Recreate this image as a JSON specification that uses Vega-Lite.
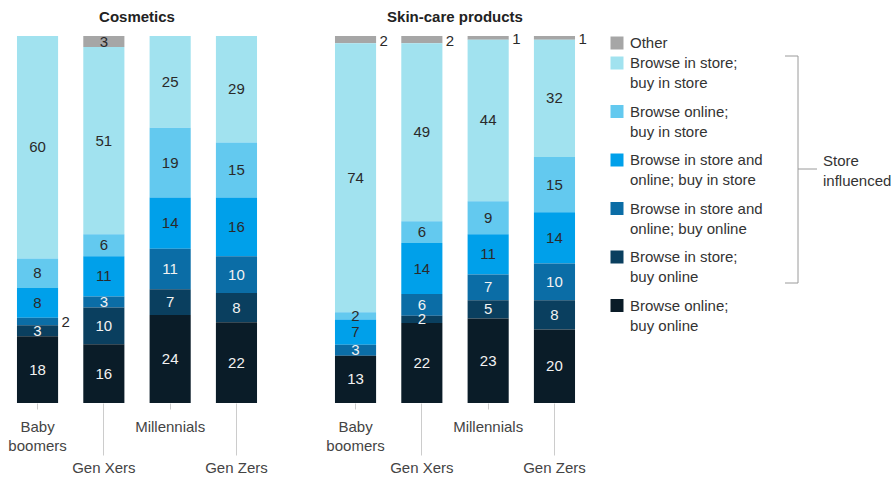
{
  "$schema": "https://vega.github.io/schema/vega-lite/v6.json",
  "padding": {"left": 0, "top": 10, "right": 0, "bottom": 0},
  "background": "white",
  "config": {"view": {"stroke": null}, "font": "Liberation Sans", "concat": {"spacing": 8}},
  "datasets": {
    "bars": [
      {"product": "Cosmetics", "gen": "Baby boomers", "segment": "Browse in store; buy in store", "value": 60},
      {"product": "Cosmetics", "gen": "Baby boomers", "segment": "Browse online; buy in store", "value": 8},
      {"product": "Cosmetics", "gen": "Baby boomers", "segment": "Browse in store and online; buy in store", "value": 8},
      {"product": "Cosmetics", "gen": "Baby boomers", "segment": "Browse in store and online; buy online", "value": 2},
      {"product": "Cosmetics", "gen": "Baby boomers", "segment": "Browse in store; buy online", "value": 3},
      {"product": "Cosmetics", "gen": "Baby boomers", "segment": "Browse online; buy online", "value": 18},
      {"product": "Cosmetics", "gen": "Gen Xers", "segment": "Other", "value": 3},
      {"product": "Cosmetics", "gen": "Gen Xers", "segment": "Browse in store; buy in store", "value": 51},
      {"product": "Cosmetics", "gen": "Gen Xers", "segment": "Browse online; buy in store", "value": 6},
      {"product": "Cosmetics", "gen": "Gen Xers", "segment": "Browse in store and online; buy in store", "value": 11},
      {"product": "Cosmetics", "gen": "Gen Xers", "segment": "Browse in store and online; buy online", "value": 3},
      {"product": "Cosmetics", "gen": "Gen Xers", "segment": "Browse in store; buy online", "value": 10},
      {"product": "Cosmetics", "gen": "Gen Xers", "segment": "Browse online; buy online", "value": 16},
      {"product": "Cosmetics", "gen": "Millennials", "segment": "Browse in store; buy in store", "value": 25},
      {"product": "Cosmetics", "gen": "Millennials", "segment": "Browse online; buy in store", "value": 19},
      {"product": "Cosmetics", "gen": "Millennials", "segment": "Browse in store and online; buy in store", "value": 14},
      {"product": "Cosmetics", "gen": "Millennials", "segment": "Browse in store and online; buy online", "value": 11},
      {"product": "Cosmetics", "gen": "Millennials", "segment": "Browse in store; buy online", "value": 7},
      {"product": "Cosmetics", "gen": "Millennials", "segment": "Browse online; buy online", "value": 24},
      {"product": "Cosmetics", "gen": "Gen Zers", "segment": "Browse in store; buy in store", "value": 29},
      {"product": "Cosmetics", "gen": "Gen Zers", "segment": "Browse online; buy in store", "value": 15},
      {"product": "Cosmetics", "gen": "Gen Zers", "segment": "Browse in store and online; buy in store", "value": 16},
      {"product": "Cosmetics", "gen": "Gen Zers", "segment": "Browse in store and online; buy online", "value": 10},
      {"product": "Cosmetics", "gen": "Gen Zers", "segment": "Browse in store; buy online", "value": 8},
      {"product": "Cosmetics", "gen": "Gen Zers", "segment": "Browse online; buy online", "value": 22},
      {"product": "Skin-care products", "gen": "Baby boomers", "segment": "Other", "value": 2},
      {"product": "Skin-care products", "gen": "Baby boomers", "segment": "Browse in store; buy in store", "value": 74},
      {"product": "Skin-care products", "gen": "Baby boomers", "segment": "Browse online; buy in store", "value": 2},
      {"product": "Skin-care products", "gen": "Baby boomers", "segment": "Browse in store and online; buy in store", "value": 7},
      {"product": "Skin-care products", "gen": "Baby boomers", "segment": "Browse in store and online; buy online", "value": 3},
      {"product": "Skin-care products", "gen": "Baby boomers", "segment": "Browse online; buy online", "value": 13},
      {"product": "Skin-care products", "gen": "Gen Xers", "segment": "Other", "value": 2},
      {"product": "Skin-care products", "gen": "Gen Xers", "segment": "Browse in store; buy in store", "value": 49},
      {"product": "Skin-care products", "gen": "Gen Xers", "segment": "Browse online; buy in store", "value": 6},
      {"product": "Skin-care products", "gen": "Gen Xers", "segment": "Browse in store and online; buy in store", "value": 14},
      {"product": "Skin-care products", "gen": "Gen Xers", "segment": "Browse in store and online; buy online", "value": 6},
      {"product": "Skin-care products", "gen": "Gen Xers", "segment": "Browse in store; buy online", "value": 2},
      {"product": "Skin-care products", "gen": "Gen Xers", "segment": "Browse online; buy online", "value": 22},
      {"product": "Skin-care products", "gen": "Millennials", "segment": "Other", "value": 1},
      {"product": "Skin-care products", "gen": "Millennials", "segment": "Browse in store; buy in store", "value": 44},
      {"product": "Skin-care products", "gen": "Millennials", "segment": "Browse online; buy in store", "value": 9},
      {"product": "Skin-care products", "gen": "Millennials", "segment": "Browse in store and online; buy in store", "value": 11},
      {"product": "Skin-care products", "gen": "Millennials", "segment": "Browse in store and online; buy online", "value": 7},
      {"product": "Skin-care products", "gen": "Millennials", "segment": "Browse in store; buy online", "value": 5},
      {"product": "Skin-care products", "gen": "Millennials", "segment": "Browse online; buy online", "value": 23},
      {"product": "Skin-care products", "gen": "Gen Zers", "segment": "Other", "value": 1},
      {"product": "Skin-care products", "gen": "Gen Zers", "segment": "Browse in store; buy in store", "value": 32},
      {"product": "Skin-care products", "gen": "Gen Zers", "segment": "Browse online; buy in store", "value": 15},
      {"product": "Skin-care products", "gen": "Gen Zers", "segment": "Browse in store and online; buy in store", "value": 14},
      {"product": "Skin-care products", "gen": "Gen Zers", "segment": "Browse in store and online; buy online", "value": 10},
      {"product": "Skin-care products", "gen": "Gen Zers", "segment": "Browse in store; buy online", "value": 8},
      {"product": "Skin-care products", "gen": "Gen Zers", "segment": "Browse online; buy online", "value": 20}
    ],
    "legend": [
      {"segment": "Other", "label": "Other"},
      {"segment": "Browse in store; buy in store", "label": "Browse in store;|buy in store"},
      {"segment": "Browse online; buy in store", "label": "Browse online;|buy in store"},
      {"segment": "Browse in store and online; buy in store", "label": "Browse in store and|online; buy in store"},
      {"segment": "Browse in store and online; buy online", "label": "Browse in store and|online; buy online"},
      {"segment": "Browse in store; buy online", "label": "Browse in store;|buy online"},
      {"segment": "Browse online; buy online", "label": "Browse online;|buy online"}
    ]
  },
  "hconcat": [
    {
      "data": {"name": "bars"},
      "transform": [
        {"calculate": "indexof(['Browse online; buy online','Browse in store; buy online','Browse in store and online; buy online','Browse in store and online; buy in store','Browse online; buy in store','Browse in store; buy in store','Other'], datum.segment)", "as": "order"},
        {"stack": "value", "groupby": ["product", "gen"], "sort": [{"field": "order", "order": "ascending"}], "offset": "normalize", "as": ["v0", "v1"]},
        {"calculate": "(datum.v0 + datum.v1) / 2", "as": "mid"}
      ],
      "facet": {
        "column": {
          "field": "product", "type": "nominal", "sort": ["Cosmetics", "Skin-care products"],
          "header": {"title": null, "labelFontSize": 15, "labelFontWeight": "bold", "labelColor": "#222222", "labelFont": "Liberation Sans", "labelPadding": 6}
        }
      },
      "spacing": 44,
      "spec": {
        "width": 274,
        "height": 367,
        "encoding": {
          "x": {
            "field": "gen", "type": "nominal",
            "sort": ["Baby boomers", "Gen Xers", "Millennials", "Gen Zers"],
            "scale": {"paddingInner": 0.38, "paddingOuter": 0.256},
            "axis": {
              "title": null, "domain": false, "labelAngle": 0, "labelFontSize": 15,
              "labelColor": "#444444", "labelFont": "Liberation Sans", "tickColor": "#cccccc", "tickWidth": 1,
              "labelLineHeight": 19,
              "labelExpr": "datum.value == 'Baby boomers' ? ['Baby', 'boomers'] : datum.value",
              "tickSize": {"condition": {"test": "datum.value == 'Gen Xers' || datum.value == 'Gen Zers'", "value": 52}, "value": 6},
              "labelPadding": {"condition": {"test": "datum.value == 'Gen Xers' || datum.value == 'Gen Zers'", "value": 5}, "value": 10}
            }
          }
        },
        "layer": [
          {
            "mark": {"type": "bar"},
            "encoding": {
              "y": {"field": "v1", "type": "quantitative", "scale": {"domain": [0, 1]}, "axis": null},
              "y2": {"field": "v0"},
              "color": {
                "field": "segment", "type": "nominal", "legend": null,
                "scale": {
                  "domain": ["Other", "Browse in store; buy in store", "Browse online; buy in store", "Browse in store and online; buy in store", "Browse in store and online; buy online", "Browse in store; buy online", "Browse online; buy online"],
                  "range": ["#a6a6a6", "#a1e2ef", "#63c9ef", "#00a0ea", "#0b6da6", "#0a3f5f", "#0a1c28"]
                }
              }
            }
          },
          {
            "transform": [{"filter": "!((datum.product == 'Skin-care products' && datum.segment == 'Other') || (datum.product == 'Cosmetics' && datum.gen == 'Baby boomers' && datum.segment == 'Browse in store and online; buy online'))"}],
            "mark": {"type": "text", "fontSize": 15, "baseline": "middle"},
            "encoding": {
              "y": {"field": "mid", "type": "quantitative"},
              "text": {"field": "value", "type": "quantitative"},
              "color": {"condition": {"test": "indexof(['Browse in store and online; buy online','Browse in store; buy online','Browse online; buy online'], datum.segment) >= 0", "value": "#f2f2f2"}, "value": "#2a2a2a"}
            }
          },
          {
            "transform": [{"filter": "(datum.product == 'Skin-care products' && datum.segment == 'Other') || (datum.product == 'Cosmetics' && datum.gen == 'Baby boomers' && datum.segment == 'Browse in store and online; buy online')"}],
            "mark": {"type": "text", "fontSize": 15, "baseline": "middle", "align": "left", "dx": 24, "dy": 1, "color": "#2a2a2a"},
            "encoding": {
              "y": {"field": "mid", "type": "quantitative"},
              "text": {"field": "value", "type": "quantitative"}
            }
          }
        ]
      }
    },
    {
      "data": {"name": "legend"},
      "width": 295,
      "height": 291,
      "encoding": {
        "y": {
          "field": "segment", "type": "nominal",
          "sort": ["Other", "Browse in store; buy in store", "Browse online; buy in store", "Browse in store and online; buy in store", "Browse in store and online; buy online", "Browse in store; buy online", "Browse online; buy online"],
          "scale": {"type": "point", "padding": 0, "range": [-21.5, 269.5]},
          "axis": null
        },
        "x": {"datum": 17, "type": "quantitative", "scale": {"domain": [0, 295]}, "axis": null}
      },
      "layer": [
        {
          "transform": [{"filter": "datum.segment != 'Other'"}],
          "mark": {"type": "point", "shape": "square", "filled": true, "size": 169, "opacity": 1},
          "encoding": {"color": {"field": "segment", "type": "nominal", "legend": null}}
        },
        {
          "transform": [{"filter": "datum.segment == 'Other'"}],
          "mark": {"type": "point", "shape": "square", "filled": true, "size": 169, "opacity": 1, "yOffset": 28.5},
          "encoding": {"color": {"field": "segment", "type": "nominal", "legend": null}}
        },
        {
          "transform": [{"filter": "datum.segment != 'Other'"}],
          "mark": {"type": "text", "align": "left", "baseline": "alphabetic", "dx": 13, "dy": 5, "lineBreak": "|", "lineHeight": 20, "fontSize": 15, "color": "#333333"},
          "encoding": {"text": {"field": "label"}}
        },
        {
          "transform": [{"filter": "datum.segment == 'Other'"}],
          "mark": {"type": "text", "align": "left", "baseline": "alphabetic", "dx": 13, "dy": 5, "yOffset": 28.5, "lineBreak": "|", "lineHeight": 20, "fontSize": 15, "color": "#333333"},
          "encoding": {"text": {"field": "label"}}
        },
        {
          "data": {"values": [{}]},
          "mark": {"type": "rule", "color": "#9a9a9a", "strokeWidth": 1, "yOffset": -7, "y2Offset": 26},
          "encoding": {
            "x": {"datum": 198, "type": "quantitative"},
            "y": {"datum": "Browse in store; buy in store", "type": "nominal"},
            "y2": {"datum": "Browse in store; buy online"}
          }
        },
        {
          "data": {"values": [{}]},
          "mark": {"type": "rule", "color": "#9a9a9a", "strokeWidth": 1, "yOffset": -7},
          "encoding": {
            "x": {"datum": 185, "type": "quantitative"},
            "x2": {"datum": 198},
            "y": {"datum": "Browse in store; buy in store", "type": "nominal"}
          }
        },
        {
          "data": {"values": [{}]},
          "mark": {"type": "rule", "color": "#9a9a9a", "strokeWidth": 1, "yOffset": 26},
          "encoding": {
            "x": {"datum": 185, "type": "quantitative"},
            "x2": {"datum": 198},
            "y": {"datum": "Browse in store; buy online", "type": "nominal"}
          }
        },
        {
          "data": {"values": [{}]},
          "mark": {"type": "rule", "color": "#9a9a9a", "strokeWidth": 1, "yOffset": 9},
          "encoding": {
            "x": {"datum": 198, "type": "quantitative"},
            "x2": {"datum": 217},
            "y": {"datum": "Browse in store and online; buy in store", "type": "nominal"}
          }
        },
        {
          "data": {"values": [{"note": "Store|influenced"}]},
          "mark": {"type": "text", "align": "left", "baseline": "alphabetic", "dy": 6, "lineBreak": "|", "lineHeight": 20, "fontSize": 15, "color": "#333333"},
          "encoding": {
            "x": {"datum": 223, "type": "quantitative"},
            "y": {"datum": "Browse in store and online; buy in store", "type": "nominal"},
            "text": {"field": "note"}
          }
        }
      ]
    }
  ]
}
